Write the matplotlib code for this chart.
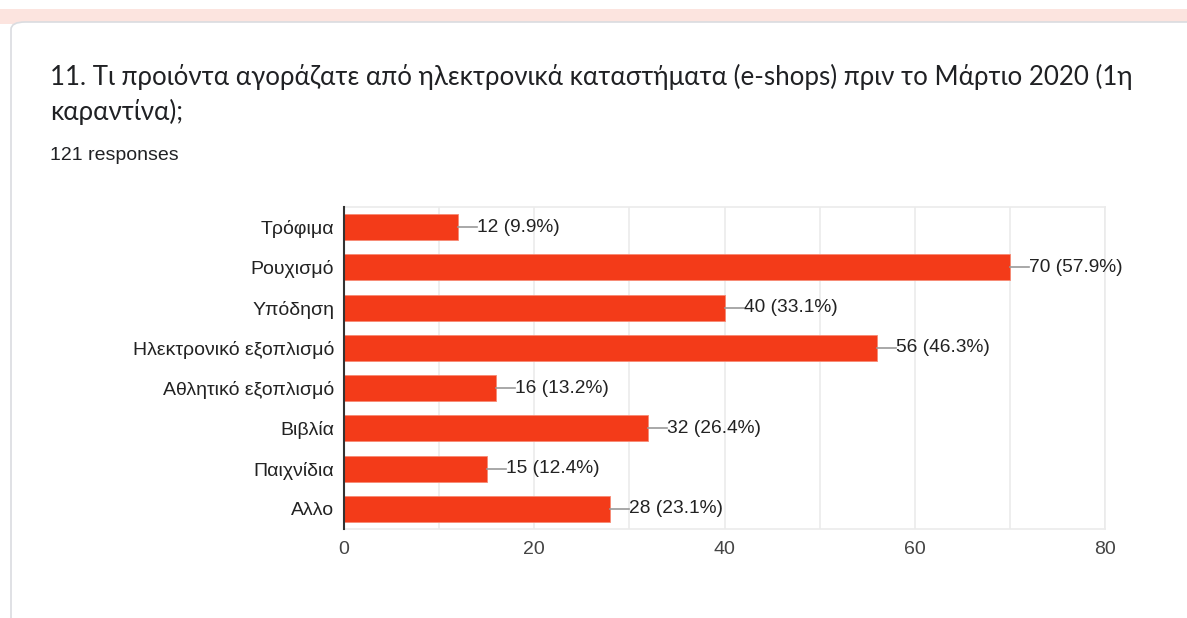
import matplotlib.pyplot as plt
from matplotlib.patches import FancyBboxPatch, Rectangle

categories = ['Τρόφιμα', 'Ρουχισμό', 'Υπόδηση', 'Ηλεκτρονικό εξοπλισμό',
              'Αθλητικό εξοπλισμό', 'Βιβλία', 'Παιχνίδια', 'Αλλο']
counts = [12, 70, 40, 56, 16, 32, 15, 28]
percents = [9.9, 57.9, 33.1, 46.3, 13.2, 26.4, 12.4, 23.1]
total = 121
title_lines = ['11. Τι προιόντα αγοράζατε από ηλεκτρονικά καταστήματα (e-shops) πριν το Μάρτιο 2020 (1η',
               'καραντίνα);']

W, H = 1187, 618
fig = plt.figure(figsize=(W / 100, H / 100), dpi=100)
fig.patch.set_facecolor('white')

# page header band and the white card
fig.add_artist(Rectangle((0, 1 - 24 / H), 1, 15 / H, transform=fig.transFigure,
                         facecolor='#fce4df', edgecolor='none', zorder=0))
fig.add_artist(FancyBboxPatch((11 / W, -0.1), 1.1, 1 - 22 / H + 0.1,
                              boxstyle='round,pad=0,rounding_size=0.012',
                              transform=fig.transFigure, facecolor='white',
                              edgecolor='#dadce0', linewidth=1.2, zorder=1))

for i, line in enumerate(title_lines):
    fig.text(50 / W, 1 - (77 + 35 * i) / H, line, fontsize=18.6, color='#202124',
             va='center', family=['Lato', 'DejaVu Sans'], zorder=3)
fig.text(50 / W, 1 - 156 / H, f'{total} responses', fontsize=14, color='#202124',
         va='center', family='Liberation Sans', zorder=3)

ax = fig.add_axes([344 / W, 1 - 529 / H, (1105 - 344) / W, (529 - 207) / H], zorder=2)
ax.set_facecolor('none')

bar_color = '#f33b19'
y = list(range(len(categories)))
ax.barh(y, counts, height=0.65, color=bar_color, edgecolor='#f78a74', linewidth=0.6, zorder=3)

for yi, c, p in zip(y, counts, percents):
    ax.plot([c, c + 2], [yi, yi], color='#999999', linewidth=1.2, zorder=3)
    ax.text(c + 2, yi, f'{c} ({p}%)', va='center', ha='left', fontsize=13.8,
            color='#222222', family='Liberation Sans', zorder=4)

ax.set_xlim(0, 80)
ax.set_ylim(len(categories) - 0.5, -0.5)
ax.set_xticks(range(0, 81, 20))
ax.set_xticks(range(10, 80, 20), minor=True)
ax.set_yticks(y)
ax.set_yticklabels(categories)
ax.grid(axis='x', which='both', color='#ebebeb', linewidth=1.2, zorder=0)
ax.tick_params(axis='both', which='both', length=0)
ax.tick_params(axis='y', pad=7, labelsize=14, labelcolor='#222222')
ax.tick_params(axis='x', pad=9, labelsize=14, labelcolor='#444444')
for lab in ax.get_xticklabels() + ax.get_yticklabels():
    lab.set_family('Liberation Sans')

for side in ('top', 'right', 'bottom'):
    ax.spines[side].set_color('#ebebeb')
    ax.spines[side].set_linewidth(1.2)
ax.spines['left'].set_color('#333333')
ax.spines['left'].set_linewidth(1.5)
ax.spines['left'].set_zorder(5)

fig.savefig('out.png', dpi=100)
